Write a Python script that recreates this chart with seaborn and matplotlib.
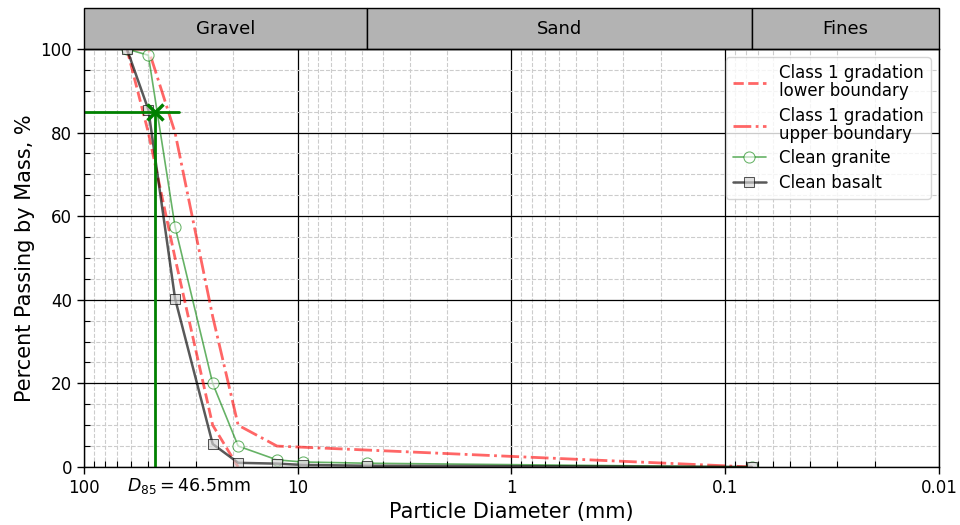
import numpy as np
import matplotlib
matplotlib.use('Agg')
import matplotlib.pyplot as plt
import matplotlib.ticker as mticker
from matplotlib.patches import Rectangle
from matplotlib.transforms import blended_transform_factory
import seaborn as sns

# tamices (mm) y porcentaje que pasa
sieve = [63, 50, 37.5, 25, 19, 12.5, 9.5, 4.75, 0.075]
granite = [100, 98.5, 57.5, 20, 5, 1.7, 1.2, 0.9, 0]
basalt = [100, 85.5, 40.3, 5.5, 1, 0.8, 0.5, 0.3, 0]

# limites de la gradacion clase 1
lower_sieve = [63, 50, 37.5, 25, 19]
lower_pass = [100, 80, 50, 10, 0]
upper_sieve = [63, 50, 37.5, 25, 19, 12.5, 0.075]
upper_pass = [100, 100, 80, 36, 10, 5, 0]

# D85
d85 = 46.5
d85_pass = 85
d85_guide = [100, 36]

zones = ['Gravel', 'Sand', 'Fines']
zone_edges = [100, 4.75, 0.075, 0.01]
xticks = [100, 10, 1, 0.1, 0.01]
xticklabels = ['100', '10', '1', '0.1', '0.01']

sns.set_style('ticks')
plt.rcParams['font.family'] = ['DejaVu Sans']
plt.rcParams['text.color'] = 'black'
plt.rcParams['axes.labelcolor'] = 'black'
plt.rcParams['xtick.color'] = 'black'
plt.rcParams['ytick.color'] = 'black'

fig = plt.figure(figsize=(9.6, 5.25), dpi=100)
ax = fig.add_axes([0.0875, 0.1105, 0.8906, 0.7962])
ax.set_xscale('log')

sns.lineplot(x=lower_sieve, y=lower_pass, ax=ax, estimator=None, sort=False,
             color='red', alpha=0.6, linestyle='--', lw=2,
             label='Class 1 gradation\nlower boundary')
sns.lineplot(x=upper_sieve, y=upper_pass, ax=ax, estimator=None, sort=False,
             color='red', alpha=0.6, linestyle='-.', lw=2,
             label='Class 1 gradation\nupper boundary')
sns.lineplot(x=sieve, y=granite, ax=ax, estimator=None, sort=False,
             color='green', alpha=0.6, lw=1.2, marker='o', ms=8,
             mfc='white', mec='green', label='Clean granite')
sns.lineplot(x=sieve, y=basalt, ax=ax, estimator=None, sort=False,
             color='black', alpha=0.65, lw=1.8, marker='s', ms=7,
             mfc='lightgray', mec='black', label='Clean basalt')

# lineas guia del D85
ax.plot(d85_guide, [d85_pass, d85_pass], color='green', lw=2)
ax.plot([d85, d85], [0, d85_pass], color='green', lw=2)
ax.plot([d85], [d85_pass], marker='x', ms=12, mew=2.5, color='green')

ax.set_xlim(100, 0.01)
ax.set_ylim(0, 100)
ax.set_xticks(xticks)
ax.set_xticklabels(xticklabels)
ax.xaxis.set_minor_locator(mticker.LogLocator(base=10, subs=np.arange(2, 10)))
ax.xaxis.set_minor_formatter(mticker.NullFormatter())
ax.yaxis.set_major_locator(mticker.MultipleLocator(20))
ax.yaxis.set_minor_locator(mticker.MultipleLocator(5))

ax.set_axisbelow(True)
ax.grid(which='major', color='black', lw=0.9, ls='-')
ax.grid(which='minor', color='#cccccc', lw=0.8, ls='--')
ax.tick_params(which='major', direction='out', length=5, width=1, labelsize=12,
               bottom=True, left=True)
ax.tick_params(which='minor', direction='in', length=4, width=0.8,
               bottom=True, left=True)
for s in ax.spines.values():
    s.set_visible(True)
    s.set_color('black')
    s.set_linewidth(1)

ax.set_xlabel('Particle Diameter (mm)', fontsize=15)
ax.set_ylabel('Percent Passing by Mass, %', fontsize=15)

ax.text(32.3, -0.022, rf'$D_{{85}} = {d85}$mm', transform=ax.get_xaxis_transform(),
        ha='center', va='top', fontsize=12.5)

# cajas de clasificacion arriba
trans = blended_transform_factory(ax.transData, ax.transAxes)
h = 0.098
for name, x0, x1 in zip(zones, zone_edges[:-1], zone_edges[1:]):
    ax.add_patch(Rectangle((x1, 1.0), x0 - x1, h, transform=trans, clip_on=False,
                           facecolor='#b3b3b3', edgecolor='black', lw=1))
    ax.text(np.sqrt(x0 * x1), 1.0 + h / 2, name, transform=trans,
            ha='center', va='center', fontsize=13)

leg = ax.legend(loc='upper right', fontsize=12, framealpha=0.8, labelspacing=0.4)
for t in leg.get_texts():
    t.set_linespacing(1.0)

plt.savefig('out.png', dpi=100)
